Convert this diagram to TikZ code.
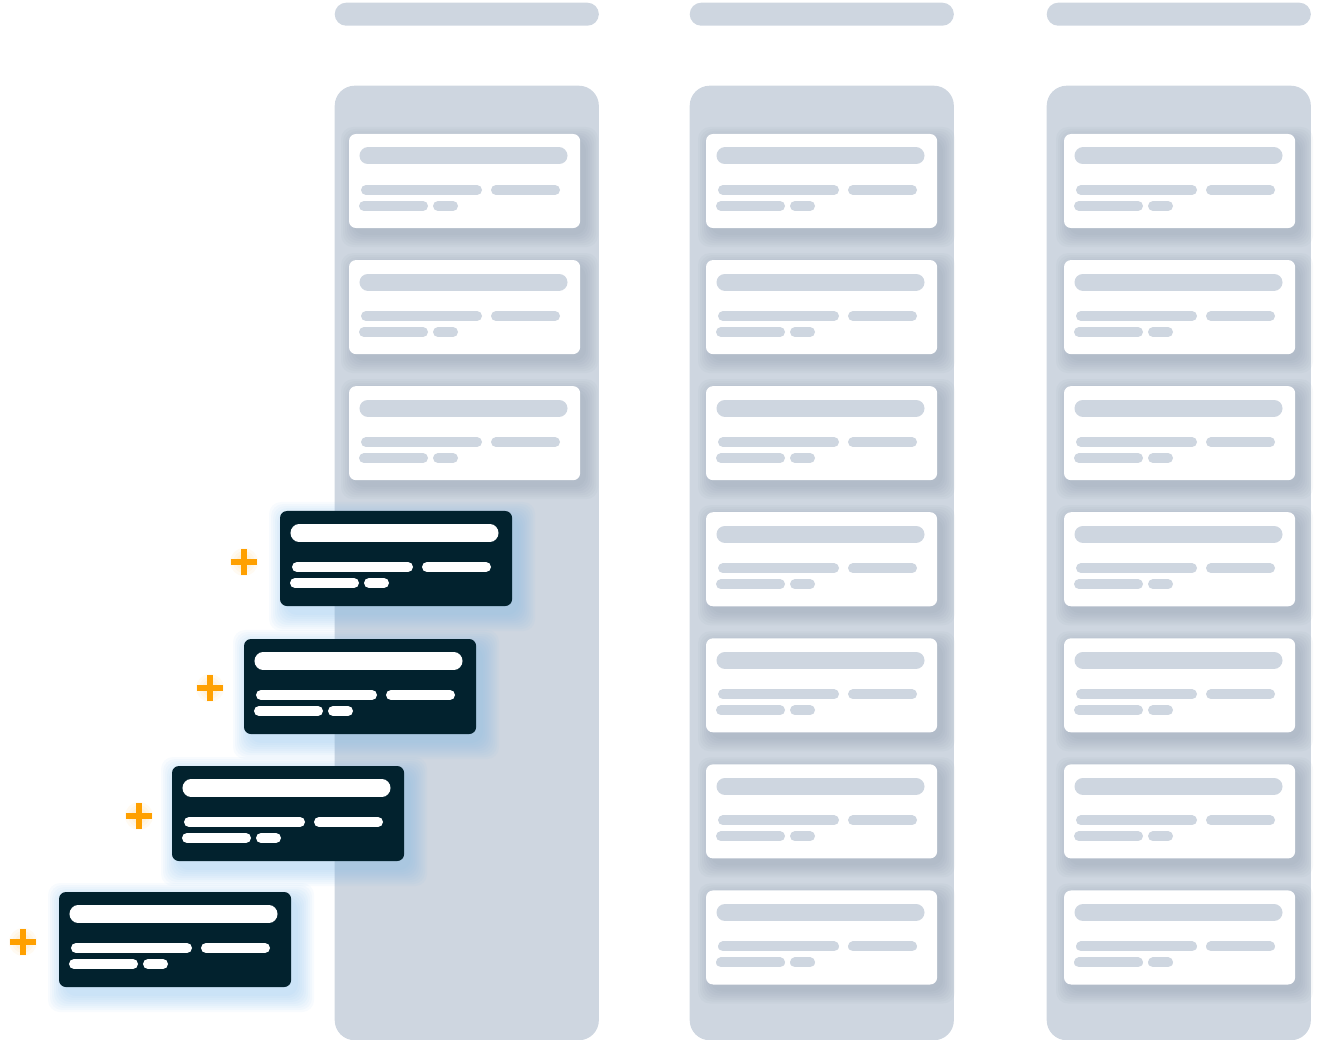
\documentclass[tikz,border=0pt]{standalone}
\usepackage{xcolor}
\usepackage{tikz}
\usetikzlibrary{positioning, backgrounds}
\definecolor{lanegray}{HTML}{CED6E0}
\definecolor{shadegray}{HTML}{8592A6}
\definecolor{cardnavy}{HTML}{02222E}
\definecolor{glowblue}{HTML}{7DB8EA}
\definecolor{plusorange}{HTML}{FFA000}
\tikzset{
    lane/.style={rectangle, rounded corners=0.2cm, minimum width=2.64cm, minimum height=9.54cm, inner sep=0pt, anchor=north west, fill=lanegray},
    lanehead/.style={rectangle, rounded corners=0.115cm, minimum width=2.64cm, minimum height=0.23cm, inner sep=0pt, anchor=north west, fill=lanegray}
}

\begin{document}
\begin{tikzpicture}[
        % one unit = one pixel of the board, y going down
        x=0.01cm, y=-0.01cm,
        % Define styles
        card/.style={rectangle, rounded corners=0.07cm, minimum width=2.31cm, minimum height=0.94cm, inner sep=0pt, outer sep=0pt, anchor=north west, fill=white},
        darkcard/.style={rectangle, rounded corners=0.07cm, minimum width=2.32cm, minimum height=0.95cm, inner sep=0pt, outer sep=0pt, anchor=north west, fill=cardnavy},
        titlebar/.style={line width=0.17cm, line cap=round},
        textbar/.style={line width=0.1cm, line cap=round},
        plussign/.style={line width=0.06cm, draw=plusorange},
        softshade/.style={opacity=0.06, rounded corners=0.12cm}
    ]
        \useasboundingbox (0,0) rectangle (1336,1040);

        % --- Cards in the lanes ---
        \node (a1) [card] at (349,134) {};
        \node (a2) [card, below=0.32cm of a1] {};
        \node (a3) [card, below=0.32cm of a2] {};

        \node (b1) [card] at (706,134) {};
        \node (b2) [card, below=0.32cm of b1] {};
        \node (b3) [card, below=0.32cm of b2] {};
        \node (b4) [card, below=0.32cm of b3] {};
        \node (b5) [card, below=0.32cm of b4] {};
        \node (b6) [card, below=0.32cm of b5] {};
        \node (b7) [card, below=0.32cm of b6] {};

        \node (c1) [card] at (1064,134) {};
        \node (c2) [card, below=0.32cm of c1] {};
        \node (c3) [card, below=0.32cm of c2] {};
        \node (c4) [card, below=0.32cm of c3] {};
        \node (c5) [card, below=0.32cm of c4] {};
        \node (c6) [card, below=0.32cm of c5] {};
        \node (c7) [card, below=0.32cm of c6] {};

        % --- New cards coming in ---
        \node (d1) [darkcard] at (280,511) {};
        \node (d2) [darkcard] at (244,639) {};
        \node (d3) [darkcard] at (172,766) {};
        \node (d4) [darkcard] at (59,892) {};

        % placeholder lines on every card
        \foreach \c/\col in {a1/lanegray, a2/lanegray, a3/lanegray,
                b1/lanegray, b2/lanegray, b3/lanegray, b4/lanegray, b5/lanegray, b6/lanegray, b7/lanegray,
                c1/lanegray, c2/lanegray, c3/lanegray, c4/lanegray, c5/lanegray, c6/lanegray, c7/lanegray,
                d1/white, d2/white, d3/white, d4/white} {
            \draw [titlebar, draw=\col] ([shift={(19,22)}]\c.north west) -- ([shift={(210,22)}]\c.north west);
            \draw [textbar, draw=\col] ([shift={(17,56)}]\c.north west) -- ([shift={(128,56)}]\c.north west);
            \draw [textbar, draw=\col] ([shift={(147,56)}]\c.north west) -- ([shift={(206,56)}]\c.north west);
            \draw [textbar, draw=\col] ([shift={(15,72)}]\c.north west) -- ([shift={(74,72)}]\c.north west);
            \draw [textbar, draw=\col] ([shift={(89,72)}]\c.north west) -- ([shift={(104,72)}]\c.north west);
        }

        % --- Plus signs ---
        \coordinate (p1) at (244,562);
        \coordinate (p2) at (210,688);
        \coordinate (p3) at (139,816);
        \coordinate (p4) at (23,942);
        \foreach \p in {p1, p2, p3, p4} {
            \draw [plussign] ([xshift=-0.13cm]\p) -- ([xshift=0.13cm]\p) ([yshift=-0.13cm]\p) -- ([yshift=0.13cm]\p);
        }

        % --- Lanes and shadows behind everything ---
        \begin{scope}[on background layer]
            \node (head1) [lanehead] at (334,2) {};
            \node (head2) [lanehead] at (689,2) {};
            \node (head3) [lanehead] at (1046,2) {};
            \node (lane1) [lane] at (334,85) {};
            \node (lane2) [lane] at (689,85) {};
            \node (lane3) [lane] at (1046,85) {};

            \foreach \c in {a1, a2, a3, b1, b2, b3, b4, b5, b6, b7, c1, c2, c3, c4, c5, c6, c7}
                \foreach \r in {1, 3, ..., 13}
                    \fill [softshade, shadegray] ([shift={(5-\r,6-\r)}]\c.north west) rectangle ([shift={(5+\r,6+\r)}]\c.south east);

            \foreach \c in {d1, d2, d3, d4}
                \foreach \r in {1, 3, ..., 17}
                    \fill [softshade, glowblue, opacity=0.055] ([shift={(6-\r,8-\r)}]\c.north west) rectangle ([shift={(6+\r,8+\r)}]\c.south east);

            \foreach \p in {p1, p2, p3, p4}
                \foreach \r in {8, 11, 14}
                    \fill [plusorange, opacity=0.05] (\p) circle [radius=\r];
        \end{scope}

    \end{tikzpicture}
\end{document}
